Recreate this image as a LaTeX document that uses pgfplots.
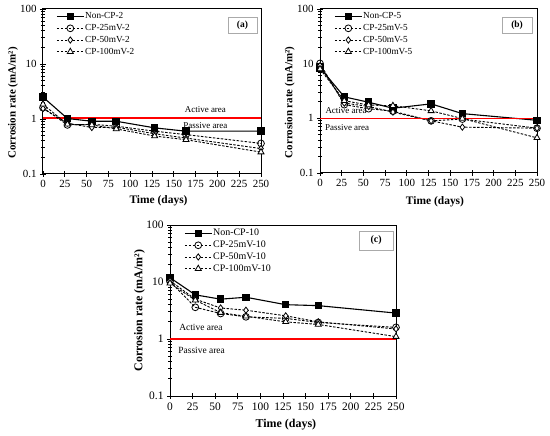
\documentclass[border=0pt]{standalone}
\usepackage{pgfplots}
\pgfplotsset{compat=1.18}
\usepackage{fontspec}
\setmainfont{Liberation Serif}
\definecolor{boxgray}{RGB}{170,170,170}
\pgfplotsset{
  every axis/.append style={
    scale only axis,
    xmin=0, xmax=250, ymin=0.1, ymax=100,
    xtick={0,25,...,250},
    xtick pos=bottom, ytick pos=left,
    tick align=center,
    major tick length=6bp, minor tick length=4bp,
    tick style={black, line width=0.8bp},
    axis line style={line width=1bp},
    tick label style={font=\fontsize{11}{12}\selectfont},
    every axis label/.append style={font=\bfseries\fontsize{11.5}{13}\selectfont},
    legend style={draw=none, fill=none, inner sep=0pt,
      font=\fontsize{9.3}{10}\selectfont, row sep=1.8bp,
      nodes={inner sep=0.8bp, text height=6.5bp, text depth=1.8bp},
      anchor=north west},
    legend cell align=left,
  },
  legend image code/.code={
    \draw[mark repeat=2, mark phase=2, #1] plot coordinates {(0bp,0bp) (13.5bp,0bp) (27bp,0bp)};
  },
  noncp/.style={black, solid, line width=1.1bp, mark=square*, mark size=3.2bp, mark options={solid, fill=black}},
  cpa/.style={black, line width=0.9bp, dash pattern=on 2.5bp off 1.5bp, mark=o, mark size=3.4bp, mark options={solid, fill=white, line width=0.8bp}},
  cpb/.style={black, line width=0.9bp, dash pattern=on 2.5bp off 1.5bp, mark=diamond*, mark size=3.1bp, mark options={solid, fill=white, line width=0.8bp}},
  cpc/.style={black, line width=0.9bp, dash pattern=on 2.5bp off 1.5bp, mark=triangle*, mark size=3.5bp, mark options={solid, fill=white, line width=0.8bp}},
}
\begin{document}
\begin{tikzpicture}
\useasboundingbox (0,0) rectangle (550bp,436bp);

% ---------------- (a)
\begin{axis}[ymode=log, ytick={0.1,1,10,100}, yticklabels={0.1,1,10,100},
  /pgf/number format/assume math mode=true,
  at={(43bp,262bp)}, anchor=south west, width=218bp, height=165bp,
  xlabel={Time (days)}, ylabel={Corrosion rate (mA/m²)},
  xlabel style={at={(rel axis cs:0.53,-0.165)}, anchor=center},
  ylabel style={at={(rel axis cs:-0.138,0.43)}, anchor=center, font=\bfseries\fontsize{11}{12}\selectfont},
  legend style={at={(rel axis cs:0.06,0.985)}},
]
\addplot[fill=red, draw=red, line width=0.5bp, mark=none, solid, forget plot] coordinates {(0.3,1.052) (249.7,1.052) (249.7,1.078) (0.3,1.078)} -- cycle;
\addplot[noncp] coordinates {(0,2.5)(28,1.02)(56,0.91)(84,0.91)(128,0.69)(164,0.6)(250,0.6)};
\addplot[cpa] coordinates {(0,1.6)(28,0.78)(56,0.8)(84,0.74)(128,0.6)(164,0.52)(250,0.36)};
\addplot[cpb] coordinates {(0,1.55)(28,0.84)(56,0.7)(84,0.71)(128,0.54)(164,0.45)(250,0.29)};
\addplot[cpc] coordinates {(0,1.85)(28,0.8)(56,0.78)(84,0.66)(128,0.49)(164,0.42)(250,0.25)};
\legend{Non-CP-2,CP-25mV-2,CP-50mV-2,CP-100mV-2}
\node[draw=boxgray, line width=0.8bp, minimum width=29bp, minimum height=16bp, inner sep=0pt, font=\bfseries\fontsize{9.5}{10}\selectfont] at (rel axis cs:0.915,0.903) {(a)};
\node[font=\fontsize{9}{10}\selectfont] at (rel axis cs:0.745,0.388) {Active area};
\node[font=\fontsize{9}{10}\selectfont] at (rel axis cs:0.745,0.291) {Passive area};
\end{axis}

% ---------------- (b)
\begin{axis}[ymode=log, ytick={0.1,1,10,100}, yticklabels={0.1,1,10,100},
  /pgf/number format/assume math mode=true,
  at={(320bp,263bp)}, anchor=south west, width=217bp, height=164bp,
  xlabel={Time (days)}, ylabel={Corrosion rate (mA/m²)},
  xlabel style={at={(rel axis cs:0.53,-0.175)}, anchor=center},
  ylabel style={at={(rel axis cs:-0.14,0.43)}, anchor=center, font=\bfseries\fontsize{11}{12}\selectfont},
  legend style={at={(rel axis cs:0.065,0.985)}},
]
\addplot[noncp] coordinates {(0,8.4)(28,2.47)(56,1.97)(84,1.53)(128,1.84)(164,1.22)(250,0.92)};
\addplot[cpa] coordinates {(0,10.1)(28,1.78)(56,1.5)(84,1.35)(128,0.9)(164,0.97)(250,0.66)};
\addplot[cpb] coordinates {(0,9.2)(28,1.9)(56,1.65)(84,1.3)(128,0.9)(164,0.69)(250,0.66)};
\addplot[cpc] coordinates {(0,8.0)(28,2.1)(56,1.75)(84,1.7)(128,1.37)(164,0.99)(250,0.44)};
\addplot[red, solid, line width=1.2bp, mark=none, forget plot] coordinates {(0,1) (250,1)};
\legend{Non-CP-5,CP-25mV-5,CP-50mV-5,CP-100mV-5}
\node[draw=boxgray, line width=0.8bp, minimum width=30bp, minimum height=16bp, inner sep=0pt, font=\bfseries\fontsize{9.5}{10}\selectfont] at (rel axis cs:0.908,0.902) {(b)};
\node[font=\fontsize{9}{10}\selectfont] at (rel axis cs:0.12,0.378) {Active area};
\node[font=\fontsize{9}{10}\selectfont] at (rel axis cs:0.125,0.28) {Passive area};
\end{axis}

% ---------------- (c)
\begin{axis}[ymode=log, ytick={0.1,1,10,100}, yticklabels={0.1,1,10,100},
  /pgf/number format/assume math mode=true,
  at={(170bp,40bp)}, anchor=south west, width=226bp, height=171bp,
  xlabel={Time (days)}, ylabel={Corrosion rate (mA/m²)},
  tick label style={font=\fontsize{11.5}{12}\selectfont},
  xlabel style={at={(rel axis cs:0.513,-0.17)}, anchor=center, font=\bfseries\fontsize{12}{13}\selectfont},
  ylabel style={at={(rel axis cs:-0.135,0.5)}, anchor=center, font=\bfseries\fontsize{12}{13}\selectfont},
  legend style={at={(rel axis cs:0.062,0.98)}, row sep=1.8bp, font=\fontsize{10}{11}\selectfont},
]
\addplot[noncp] coordinates {(0,11.9)(28,5.95)(56,5.0)(84,5.4)(128,4.0)(164,3.85)(250,2.85)};
\addplot[cpa] coordinates {(0,10.2)(28,3.6)(56,2.8)(84,2.45)(128,2.3)(164,1.95)(250,1.6)};
\addplot[cpb] coordinates {(0,10.5)(28,5.0)(56,3.5)(84,3.2)(128,2.55)(164,2.0)(250,1.5)};
\addplot[cpc] coordinates {(0,9.5)(28,4.8)(56,2.9)(84,2.5)(128,2.0)(164,1.8)(250,1.1)};
\addplot[red, solid, line width=1.2bp, mark=none, forget plot] coordinates {(0,1) (250,1)};
\legend{Non-CP-10,CP-25mV-10,CP-50mV-10,CP-100mV-10}
\node[draw=boxgray, line width=0.8bp, minimum width=34bp, minimum height=19bp, inner sep=0pt, font=\bfseries\fontsize{10}{11}\selectfont] at (rel axis cs:0.912,0.909) {(c)};
\node[font=\fontsize{9.5}{10}\selectfont] at (rel axis cs:0.137,0.404) {Active area};
\node[font=\fontsize{9.5}{10}\selectfont] at (rel axis cs:0.14,0.269) {Passive area};
\end{axis}
\end{tikzpicture}
\end{document}
